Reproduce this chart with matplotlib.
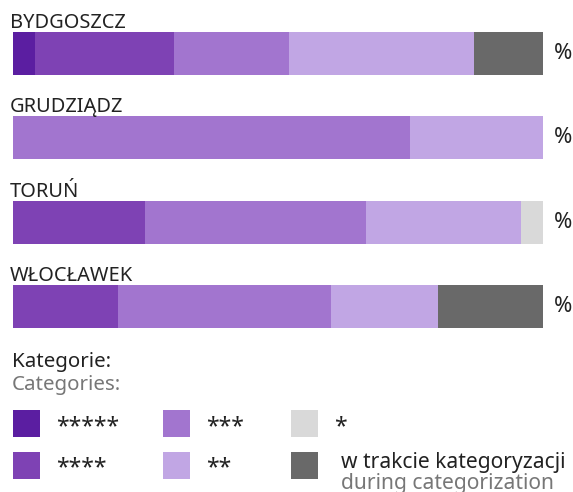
import matplotlib
matplotlib.use("Agg")
import matplotlib.pyplot as plt
from matplotlib.patches import Rectangle

# ---- data ----
cities = ["BYDGOSZCZ", "GRUDZIĄDZ", "TORUŃ", "WŁOCŁAWEK"]
categories = ["*****", "****", "***", "**", "*", "w trakcie kategoryzacji"]
categories_en = ["", "", "", "", "", "during categorization"]
colors = ["#5b1ea1", "#7e42b4", "#a275cf", "#c1a6e4", "#d9d9d9", "#696969"]
# share (%) per city, in category order
values = {
    "BYDGOSZCZ": [4.2, 26.2, 21.7, 34.9, 0.0, 13.0],
    "GRUDZIĄDZ": [0.0, 0.0, 74.9, 25.1, 0.0, 0.0],
    "TORUŃ":     [0.0, 24.9, 41.8, 29.2, 4.1, 0.0],
    "WŁOCŁAWEK": [0.0, 19.8, 40.2, 20.2, 0.0, 19.8],
}
legend_title = "Kategorie:"
legend_title_en = "Categories:"

W, H, DPI = 573, 492, 100
plt.rcParams["font.family"] = ["Noto Sans", "DejaVu Sans"]
fig = plt.figure(figsize=(W / DPI, H / DPI), dpi=DPI)

def pt(px):
    return px * 72 / DPI

# bars axes (pixel layout)
x0, x1 = 12.7, 543.0
top_px, bot_px = 0, 340
c0, step = 53.5, 84.3
ax = fig.add_axes([x0 / W, 1 - bot_px / H, (x1 - x0) / W, (bot_px - top_px) / H])
ax.set_xlim(0, 100)
ax.set_ylim((bot_px - c0) / step, (top_px - c0) / step)
ax.axis("off")

bar_h = 43 / step
for i, city in enumerate(cities):
    left = 0.0
    for v, col in zip(values[city], colors):
        if v > 0:
            ax.barh(i, v, left=left, height=bar_h, color=col, linewidth=0)
        left += v
    ax.annotate(city, xy=(0, i - bar_h / 2), xytext=(-3, 4), textcoords="offset pixels",
                ha="left", va="baseline", fontsize=pt(20), color="#222222")
    ax.annotate("%", xy=(100, i), xytext=(11, 0), textcoords="offset pixels",
                ha="left", va="center", fontsize=pt(22), color="#222222")

# legend overlay (pixel coords)
lax = fig.add_axes([0, 0, 1, 1])
lax.set_xlim(0, W)
lax.set_ylim(H, 0)
lax.axis("off")
lax.text(12, 367, legend_title, fontsize=pt(20.5), color="#222222", va="baseline")
lax.text(12, 390, legend_title_en, fontsize=pt(20.5), color="#777777", va="baseline")

col_x = [13, 163, 291]
row_y = [410, 451.5]
sq = 27
for k, (cat, en, col) in enumerate(zip(categories, categories_en, colors)):
    c, r = k // 2, k % 2
    x, y = col_x[c], row_y[r]
    lax.add_patch(Rectangle((x, y), sq, sq, facecolor=col, edgecolor="none"))
    if en:
        lax.text(x + 50, y + 16.5, cat, fontsize=pt(21), color="#222222", va="baseline")
        lax.text(x + 50, y + 38, en, fontsize=pt(21), color="#777777", va="baseline")
    else:
        lax.text(x + 43, y + sq / 2 + 9.5, cat, fontsize=pt(23), color="#222222", va="baseline")

fig.savefig("out.png", dpi=DPI)
